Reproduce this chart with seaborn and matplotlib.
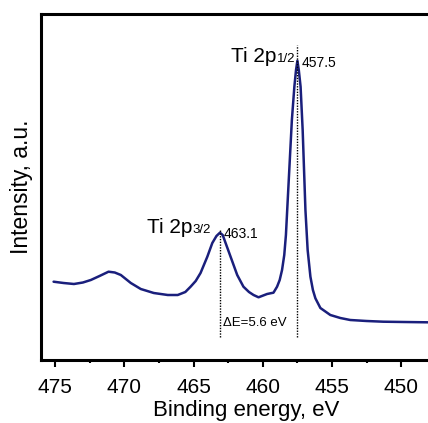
import numpy as np
import pandas as pd
import matplotlib
matplotlib.use("Agg")
import matplotlib.pyplot as plt
from matplotlib.ticker import MultipleLocator
import seaborn as sns

# Ti 2p XPS spectrum (binding energy in eV, intensity in arbitrary units)
binding_energy = [475.12, 474.4, 473.65, 473.0, 472.43, 471.8, 471.15, 470.7, 470.26,
                  469.54, 468.82, 467.88, 466.87, 466.15, 465.6, 465.22, 464.85, 464.50,
                  464.01, 463.65, 463.35, 463.1, 462.9, 462.69, 462.33, 461.85, 461.40,
                  461.0, 460.67, 460.31, 459.69, 459.45, 459.23, 458.97, 458.78, 458.61,
                  458.45, 458.33, 458.2, 458.05, 457.9, 457.72, 457.6, 457.5, 457.4,
                  457.27, 457.12, 457.02, 456.92, 456.76, 456.56, 456.38, 456.20, 455.84,
                  455.12, 454.4, 453.68, 452.5, 451.30, 449.8, 448.15, 447.0]
intensity = [78.3, 77.0, 76.0, 77.5, 80.0, 84.0, 88.3, 87.5, 85.0,
             77.0, 71.0, 67.0, 65.0, 65.0, 68.0, 73.3, 79.0, 87.0,
             103.3, 117.0, 124.0, 127.3, 125.0, 117.0, 103.3, 85.0, 73.3,
             68.0, 65.0, 62.7, 66.0, 66.7, 67.3, 73.3, 80.0, 90.0,
             105.0, 125.0, 160.0, 200.0, 240.0, 273.3, 290.0, 299.3, 290.0,
             273.3, 230.0, 190.0, 150.0, 110.0, 83.3, 70.0, 61.7, 52.0,
             45.0, 42.0, 40.0, 39.0, 38.3, 38.0, 37.7, 37.5]

peak_positions = [463.1, 457.5]
peak_labels = ["463.1", "457.5"]
peak_names = ["3/2", "1/2"]
delta_label = "ΔE=5.6 eV"
x_ticks = [475, 470, 465, 460, 455, 450]

df = pd.DataFrame({"Binding energy, eV": binding_energy, "Intensity, a.u.": intensity})

sns.set_style("ticks")
plt.rcParams["font.family"] = ["Liberation Sans", "DejaVu Sans"]
plt.rcParams["text.color"] = "black"
plt.rcParams["axes.labelcolor"] = "black"
plt.rcParams["xtick.color"] = "black"
plt.rcParams["xtick.labelcolor"] = "black"

fig = plt.figure(figsize=(4.28, 4.23), dpi=100)
ax = fig.add_axes([41 / 428, 63 / 423, 410 / 428, 345.7 / 423])

line_color = "#1a1f7c"
sns.lineplot(data=df, x="Binding energy, eV", y="Intensity, a.u.", ax=ax,
             color=line_color, linewidth=1.8, estimator=None)

# dotted guide lines at the two peak maxima
ax.vlines(peak_positions[0], 23, 130, colors="black", linestyles=(0, (1, 1)), linewidth=1.0)
ax.vlines(peak_positions[1], 23, 315, colors="black", linestyles=(0, (1, 1)), linewidth=1.0)

# peak annotations
ax.text(465.09, 126.7, "Ti 2p", ha="right", va="baseline", fontsize=15)
ax.text(465.07, 126.7, peak_names[0], ha="left", va="baseline", fontsize=9.5)
ax.text(462.82, 121.7, peak_labels[0], ha="left", va="baseline", fontsize=10)

ax.text(459.02, 298.0, "Ti 2p", ha="right", va="baseline", fontsize=15)
ax.text(459.00, 298.0, peak_names[1], ha="left", va="baseline", fontsize=9.5)
ax.text(457.16, 293.3, peak_labels[1], ha="left", va="baseline", fontsize=10)

ax.text(460.57, 34.0, delta_label, ha="center", va="baseline", fontsize=9.5)

ax.set_xlim(476.03, 446.4)
ax.set_ylim(0, 345.7)
ax.set_xticks(x_ticks)
ax.xaxis.set_minor_locator(MultipleLocator(2.5))
ax.set_yticks([])

ax.tick_params(axis="x", which="major", direction="out", length=5, width=1.5,
               labelsize=15, pad=8, color="black", labelcolor="black")
ax.tick_params(axis="x", which="minor", direction="out", length=2.5, width=1.5, color="black")

for side in ["left", "top", "bottom", "right"]:
    ax.spines[side].set_linewidth(2.2)
    ax.spines[side].set_color("black")

ax.set_xlabel("Binding energy, eV", fontsize=16, labelpad=2, color="black")
ax.set_ylabel("Intensity, a.u.", fontsize=16.5, labelpad=6, color="black")

fig.savefig("out.png", dpi=100)
